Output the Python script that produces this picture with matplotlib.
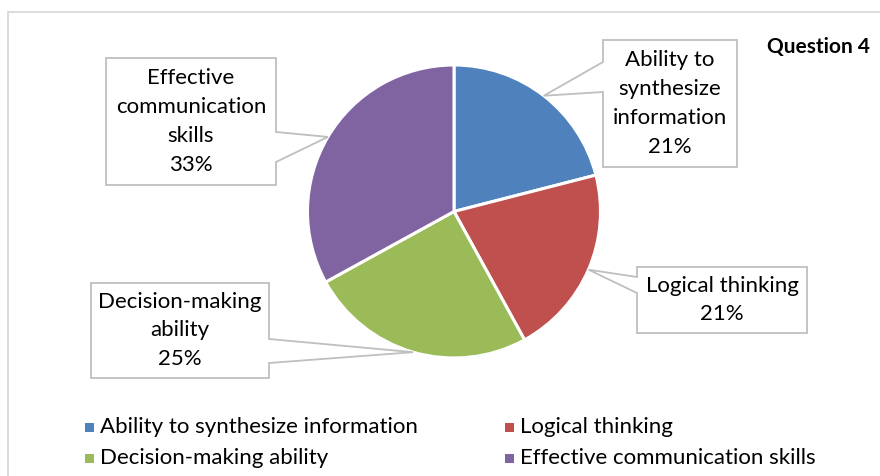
import matplotlib.pyplot as plt
from matplotlib.patches import Polygon, Rectangle
import numpy as np

categories = ["Ability to synthesize information", "Logical thinking",
              "Decision-making ability", "Effective communication skills"]
values = [21, 21, 25, 33]
box_labels = [["Ability to", "synthesize", "information"],
              ["Logical thinking"],
              ["Decision-making", "ability"],
              ["Effective", "communication", "skills"]]
colors = ["#4F81BD", "#C0504D", "#9BBB59", "#8064A2"]
title = "Question 4"

W, H = 880, 476
plt.rcParams['font.family'] = ['Lato', 'DejaVu Sans']
FS = 16

fig = plt.figure(figsize=(W / 100, H / 100), dpi=100)
ax = fig.add_axes([0, 0, 1, 1])

def fy(y):
    # pixel row (top origin) -> data y
    return H - y

cx, cy, r = 454, 211.5, 146.5
wedges, _ = ax.pie(values, colors=colors, startangle=90, counterclock=False,
                   center=(cx, fy(cy)), radius=r,
                   wedgeprops=dict(edgecolor='white', linewidth=2.2))
ax.set_xlim(0, W)
ax.set_ylim(0, H)
ax.set_aspect('auto')
ax.axis('off')

# chart area border
ax.add_patch(Rectangle((8, fy(H + 20)), W + 20, H + 8, fill=False,
                       edgecolor='#D9D9D9', lw=1.3, zorder=0))

# callout boxes: (left, top, right, bottom), side of pointer, pointer base rows
boxes = [((603, 40, 737, 167), 'left', (62, 92)),
         ((637, 267, 807, 333), 'left', (277, 293)),
         ((91, 283, 269, 378), 'right', (339, 363)),
         ((106, 58, 276, 185), 'right', (132, 162))]

pitch = 28.7
for w, val, lines, (box, side, base) in zip(wedges, values, box_labels, boxes):
    mid = np.deg2rad((w.theta1 + w.theta2) / 2)
    tx, ty = cx + r * np.cos(mid), fy(cy) + r * np.sin(mid)
    x0, y0, x1, y1 = box
    if side == 'left':
        pts = [(x0, y0), (x1, y0), (x1, y1), (x0, y1), (x0, base[1]),
               (tx, fy(ty)), (x0, base[0])]
    else:
        pts = [(x0, y0), (x1, y0), (x1, base[0]), (tx, fy(ty)),
               (x1, base[1]), (x1, y1), (x0, y1)]
    ax.add_patch(Polygon([(px, fy(py)) for px, py in pts], closed=True,
                         facecolor='white', edgecolor='#BFBFBF', lw=1.3,
                         zorder=3))
    txt = lines + [f"{val}%"]
    yc = (y0 + y1) / 2
    start = yc - pitch * (len(txt) - 1) / 2
    for i, s in enumerate(txt):
        ax.text((x0 + x1) / 2, fy(start + i * pitch), s, ha='center',
                va='center', fontsize=FS, color='black', zorder=4)

ax.text(818, fy(47), title, ha='center', va='center', fontsize=15,
        fontweight='bold', color='black')

# legend
leg_x = [85, 505]
leg_y = [427, 458]
for i, (name, c) in enumerate(zip(categories, colors)):
    lx, ly = leg_x[i % 2], leg_y[i // 2]
    ax.add_patch(Rectangle((lx, fy(ly + 4.5)), 8.5, 8.5, facecolor=c,
                           edgecolor='none'))
    ax.text(lx + 15, fy(ly), name, ha='left', va='center', fontsize=FS,
            color='black')

fig.savefig("out.png", dpi=100)
